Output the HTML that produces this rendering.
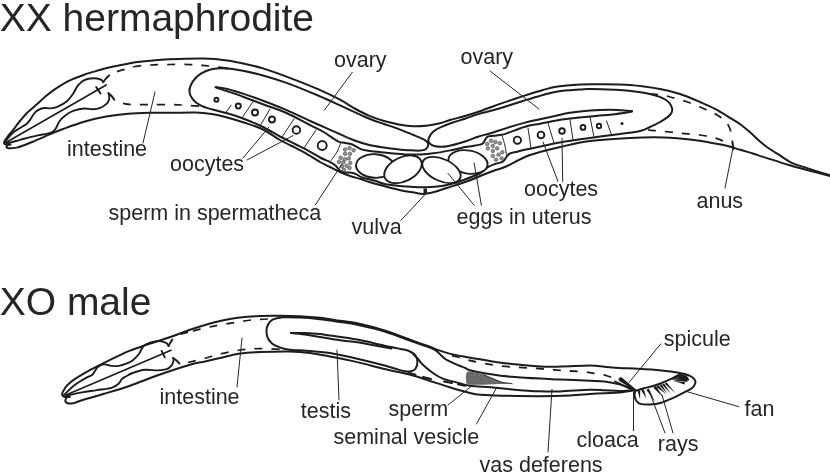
<!DOCTYPE html>
<html><head><meta charset="utf-8"><style>
html,body{margin:0;padding:0;background:#fff;}
body{width:830px;height:476px;overflow:hidden;position:relative;}
svg{position:absolute;left:0;top:0;will-change:transform;}
text{font-family:"Liberation Sans",sans-serif;fill:#262626;}
.t{font-size:39px;}
.l{font-size:21.5px;}
.e{fill:#fff;stroke:#1c1c1c;stroke-width:1.9;}
.bt{fill:none;stroke:#1c1c1c;stroke-width:2.6;stroke-linecap:butt;}
.b{fill:none;stroke:#1c1c1c;stroke-width:2;stroke-linecap:round;stroke-linejoin:round;}
.m{fill:none;stroke:#1c1c1c;stroke-width:1.9;stroke-linecap:round;stroke-linejoin:round;}
.lm{fill:none;stroke:#1c1c1c;stroke-width:1.7;stroke-linecap:round;}
.k{fill:none;stroke:#262626;stroke-width:1;stroke-linecap:round;}
.d{fill:none;stroke:#1c1c1c;stroke-width:1.7;stroke-dasharray:8 9;}
.d2{fill:none;stroke:#1c1c1c;stroke-width:1.8;stroke-dasharray:8 9;stroke-dashoffset:-2.5;}
.f{fill:#1c1c1c;stroke:none;}
.s{fill:#9a9a9a;stroke:#555;stroke-width:0.8;}
.g{fill:url(#stip);stroke:none;}
</style></head><body>
<svg width="830" height="476" viewBox="0 0 830 476">
<defs><pattern id="stip" width="2.6" height="2.4" patternUnits="userSpaceOnUse"><rect width="2.6" height="2.4" fill="#7e7e7e"/><circle cx="1.3" cy="1.2" r="0.85" fill="#b0b0b0" stroke="#2e2e2e" stroke-width="0.6"/></pattern></defs>
<g id="shapes">
<path class="b" d="M10.5,144.6C9.8,144.6 7.5,145.0 6.5,144.8C5.5,144.6 4.5,144.2 4.2,143.6C3.9,143.0 4.0,142.5 4.6,141.2C5.2,139.9 6.7,137.8 8.0,136.0C9.3,134.2 10.6,133.0 12.6,130.5C14.6,128.0 17.6,123.9 20.0,121.0C22.4,118.1 24.2,115.8 27.0,113.0C29.8,110.2 33.4,107.3 36.6,104.5C39.8,101.7 43.0,98.5 46.0,96.0C49.0,93.5 50.8,92.0 54.7,89.4C58.6,86.8 64.5,83.0 69.4,80.6C74.3,78.1 79.2,76.4 84.1,74.7C89.0,73.0 93.9,71.7 98.8,70.3C103.7,68.9 108.6,67.7 113.5,66.6C118.4,65.5 123.8,64.5 128.2,63.7C132.6,62.9 133.0,62.5 140.0,61.8C147.0,61.1 159.4,59.8 170.0,59.3C180.6,58.8 194.1,58.3 203.6,58.5C213.1,58.7 219.3,59.4 227.2,60.5C235.1,61.6 244.9,63.9 250.9,65.2C256.9,66.5 257.1,66.5 263.0,68.4C268.9,70.3 277.3,73.1 286.5,76.6C295.7,80.1 309.1,85.3 318.0,89.2C326.9,93.1 333.9,96.5 340.0,99.7C346.1,102.9 349.8,105.8 354.7,108.5C359.6,111.2 364.5,113.8 369.4,115.9C374.3,118.0 379.2,119.6 384.1,121.0C389.0,122.4 393.9,123.5 398.8,124.4C403.7,125.3 408.6,126.0 413.5,126.2C418.4,126.4 423.8,125.9 428.2,125.4C432.6,124.9 436.4,124.1 440.0,123.2C443.6,122.3 445.8,121.2 450.0,120.0C454.2,118.8 460.0,117.5 465.0,116.0C470.0,114.5 474.2,113.2 480.0,111.2C485.8,109.2 494.2,106.0 500.0,103.9C505.8,101.8 510.2,100.4 515.0,98.8C519.8,97.2 524.2,95.8 528.9,94.3C533.6,92.8 538.2,91.3 543.0,90.0C547.8,88.7 551.6,87.5 557.8,86.6C564.0,85.7 573.6,85.0 580.0,84.6C586.4,84.2 587.7,84.2 596.0,84.3C604.3,84.4 619.3,84.2 630.0,85.0C640.7,85.8 651.7,87.5 660.0,89.0C668.3,90.5 673.3,91.8 680.0,94.0C686.7,96.2 694.2,99.5 700.0,102.0C705.8,104.5 710.4,106.4 715.0,108.8C719.6,111.2 723.4,113.7 727.6,116.3C731.8,118.9 736.4,121.5 740.2,124.2C744.0,126.9 747.1,129.7 750.3,132.5C753.4,135.3 756.1,138.2 759.1,140.8C762.1,143.4 764.6,145.4 768.0,147.8C771.4,150.2 775.7,152.7 779.5,155.1C783.3,157.5 786.1,160.1 790.8,162.3C795.5,164.5 801.3,166.2 807.8,168.4C814.3,170.6 826.3,174.1 830.0,175.2"/>
<path class="b" d="M7.5,145.3C7.3,145.6 6.2,146.7 6.4,147.2C6.6,147.7 6.9,148.3 8.8,148.3C10.7,148.3 13.8,148.4 17.6,147.4C21.4,146.4 26.0,144.4 31.5,142.2C37.0,140.0 45.1,136.3 50.4,134.1C55.6,131.9 57.4,131.1 63.0,129.0C68.6,127.0 76.9,123.9 84.1,121.8C91.3,119.7 98.9,117.9 106.2,116.6C113.5,115.2 120.9,114.3 128.2,113.7C135.5,113.1 143.0,112.9 150.0,112.7C157.0,112.5 162.4,112.8 170.0,112.8C177.6,112.8 188.8,112.3 195.7,112.5C202.6,112.7 206.2,113.2 211.5,114.0C216.8,114.8 221.9,116.1 227.2,117.5C232.4,118.9 237.0,120.3 243.0,122.3C249.0,124.3 256.8,126.5 263.0,129.5C269.2,132.4 274.7,137.0 280.0,140.0C285.3,143.0 290.8,145.5 295.0,147.6C299.2,149.7 300.8,150.4 305.0,152.8C309.2,155.2 315.8,159.6 320.0,162.0C324.2,164.4 326.7,165.3 330.0,167.0C333.3,168.7 336.7,170.5 340.0,172.0C343.3,173.5 346.7,174.9 350.0,176.0C353.3,177.1 356.7,177.8 360.0,178.8C363.3,179.9 365.9,181.1 370.0,182.3C374.1,183.6 379.8,185.0 384.7,186.3C389.6,187.6 394.5,188.9 399.4,190.0C404.3,191.1 410.0,191.9 414.1,192.6C418.2,193.3 420.4,194.2 424.0,194.0C427.6,193.8 432.2,192.5 436.0,191.5C439.8,190.5 441.2,189.7 446.5,188.0C451.8,186.3 461.4,183.5 467.5,181.3C473.6,179.1 478.6,176.6 483.2,174.8C487.8,173.0 491.2,171.7 495.0,170.3C498.8,168.9 500.2,169.1 506.0,166.5C511.8,163.9 521.0,158.2 530.0,155.0C539.0,151.8 550.0,149.3 560.0,147.0C570.0,144.7 578.3,142.5 590.0,141.0C601.7,139.5 617.7,138.6 630.0,138.0C642.3,137.4 653.3,137.2 664.0,137.5C674.7,137.8 685.5,139.0 694.0,140.0C702.5,141.0 709.4,142.5 715.0,143.5C720.6,144.5 723.4,144.9 727.6,146.0C731.8,147.1 736.0,148.6 740.2,149.8C744.4,151.1 748.6,152.2 752.8,153.5C757.0,154.8 759.4,155.7 765.4,157.6C771.4,159.5 781.8,162.9 788.9,165.0C796.0,167.1 800.9,168.4 807.8,170.2C814.6,172.0 826.3,175.0 830.0,176.0"/>
<path class="m" d="M4.5,142.5C5.8,140.9 9.8,135.5 12.6,133.0C15.3,130.5 18.7,129.0 21.0,127.5C23.3,126.0 24.9,125.3 26.5,124.0C28.1,122.7 29.1,121.2 30.3,119.5C31.5,117.8 32.6,115.5 33.8,114.0C35.0,112.5 35.9,111.4 37.6,110.4C39.3,109.4 41.8,108.3 43.9,108.0C46.0,107.7 47.9,108.6 50.2,108.4C52.5,108.2 55.1,107.7 57.8,106.6C60.5,105.5 64.1,103.7 66.6,101.6C69.1,99.5 71.0,96.7 72.9,94.0C74.8,91.3 76.1,87.7 78.0,85.4C79.9,83.1 81.8,81.3 84.3,80.1C86.8,78.9 90.4,78.3 93.1,78.2C95.8,78.1 99.0,78.9 100.7,79.5C102.4,80.1 102.9,81.6 103.3,82.0"/>
<path class="m" d="M103.3,82.2C103.7,81.7 104.6,80.2 105.6,79.0C106.6,77.8 108.7,75.9 109.3,75.3"/>
<path class="lm" d="M6.0,142.5 L106.2,85.0"/>
<path class="m" d="M96.2,87.1 L100.5,93.4"/>
<path class="m" d="M6.5,143.5C8.1,143.1 12.9,141.8 16.0,141.0C19.1,140.2 21.6,139.4 25.2,138.5C28.8,137.6 33.6,136.3 37.8,135.4C42.0,134.5 47.4,133.9 50.4,132.8C53.4,131.7 54.0,130.9 55.5,129.0C57.0,127.1 57.6,123.8 59.3,121.5C61.0,119.2 63.2,117.0 65.6,115.2C68.0,113.4 70.7,111.8 73.8,110.7C76.9,109.6 80.9,108.7 84.1,108.5C87.3,108.3 90.2,109.4 92.9,109.3C95.6,109.2 98.1,108.7 100.3,107.8C102.5,106.9 104.7,105.4 106.2,104.1C107.7,102.8 108.6,101.2 109.1,99.7C109.6,98.2 109.2,96.4 109.1,95.3C109.0,94.2 108.5,93.5 108.4,93.1"/>
<path class="m" d="M108.4,93.1C109.0,93.7 111.0,95.4 112.0,96.5C113.0,97.6 113.9,99.2 114.3,99.7"/>
<path class="d" d="M117.0,71.6C118.3,71.2 122.0,70.1 125.0,69.3C128.0,68.5 130.8,67.2 135.0,66.5C139.2,65.8 144.2,65.3 150.0,65.0C155.8,64.7 163.3,64.6 170.0,64.5C176.7,64.4 184.2,64.4 190.0,64.6C195.8,64.8 200.3,65.2 205.0,65.6C209.7,66.0 215.8,66.9 218.0,67.2"/>
<path class="b" d="M219.0,67.2 L227.5,68.5"/>
<path class="d" d="M123.0,103.3C124.3,103.5 126.5,104.3 131.0,104.5C135.5,104.7 143.5,104.6 150.0,104.6C156.5,104.6 164.2,104.5 170.0,104.6C175.8,104.7 180.0,104.9 185.0,105.2C190.0,105.5 197.5,106.0 200.0,106.2"/>
<path class="d" d="M650.0,94.0C652.0,94.2 658.3,94.4 662.0,95.0C665.7,95.6 668.0,96.4 672.0,97.5C676.0,98.6 681.3,99.9 686.0,101.5C690.7,103.1 696.0,105.3 700.0,107.0C704.0,108.7 707.3,110.2 710.0,111.5C712.7,112.8 714.3,113.4 716.3,114.5C718.3,115.6 720.3,117.0 721.9,118.2C723.5,119.5 724.8,120.6 726.0,122.0C727.2,123.4 728.0,124.5 728.9,126.4C729.8,128.3 730.8,131.1 731.4,133.4C732.0,135.7 732.1,138.4 732.3,140.0C732.5,141.6 732.5,142.5 732.5,143.0"/>
<path class="d" d="M648.0,130.0C650.0,130.2 654.7,130.5 660.0,131.0C665.3,131.5 673.3,132.5 680.0,133.2C686.7,133.9 694.0,134.1 700.0,135.0C706.0,135.9 712.4,137.4 716.3,138.4C720.2,139.4 720.9,140.2 723.2,141.0C725.5,141.8 728.9,143.1 730.0,143.5"/>
<path class="b" d="M732.5,143.0 L733.5,149.0"/>
<path class="b" d="M216.2,87.3C218.0,87.6 222.7,87.9 227.2,88.9C231.7,90.0 237.0,91.6 243.0,93.6C249.0,95.6 256.0,98.1 263.0,100.7C270.0,103.3 277.1,106.0 285.0,109.4C292.9,112.8 301.8,117.2 310.2,121.0C318.6,124.8 328.0,128.8 335.4,132.1C342.8,135.3 349.0,138.3 354.7,140.5C360.4,142.7 364.5,143.8 369.4,145.0C374.3,146.2 379.2,146.8 384.1,147.5C389.0,148.2 393.9,148.9 398.8,149.4C403.7,149.9 410.0,150.2 413.5,150.4C417.0,150.6 418.0,150.8 420.0,150.6C422.0,150.4 424.2,150.1 425.5,149.3C426.8,148.5 427.7,147.1 428.0,146.0C428.3,144.9 428.2,143.6 427.5,142.5C426.8,141.4 426.1,140.7 423.8,139.4C421.5,138.2 417.7,136.7 413.5,135.0C409.3,133.3 403.7,130.9 398.8,129.1C393.9,127.3 389.0,125.7 384.1,124.0C379.2,122.3 374.3,120.8 369.4,118.8C364.5,116.8 359.8,114.5 354.7,112.2C349.6,109.9 345.1,107.7 339.0,104.9C332.9,102.1 326.8,99.2 318.0,95.5C309.2,91.8 295.7,86.2 286.5,82.9C277.3,79.6 270.2,77.5 263.0,75.5C255.8,73.5 249.0,71.9 243.0,70.7C237.0,69.5 232.4,68.7 227.2,68.4C221.9,68.2 215.9,68.3 211.5,69.2C207.1,70.1 203.7,71.8 200.5,73.9C197.3,76.0 194.4,78.9 192.6,81.8C190.8,84.7 189.4,88.3 189.4,91.2C189.4,94.1 190.8,96.7 192.6,99.1C194.4,101.5 197.3,103.7 200.5,105.4C203.7,107.1 207.1,108.0 211.5,109.3C215.9,110.6 221.9,111.8 227.2,113.3C232.4,114.8 237.2,116.3 243.0,118.5C248.8,120.7 255.8,123.5 262.0,126.5C268.2,129.5 274.5,133.6 280.0,136.5C285.5,139.4 290.8,141.9 295.0,144.0C299.2,146.1 300.8,146.7 305.0,148.9C309.2,151.2 315.9,155.3 320.0,157.5C324.1,159.7 327.1,160.5 329.7,161.8C332.3,163.1 333.9,164.1 335.5,165.5C337.1,166.9 337.9,168.9 339.2,170.0C340.5,171.1 341.3,171.8 343.4,172.3C345.5,172.8 349.5,172.4 351.8,172.8C354.1,173.2 355.2,173.9 357.0,174.7C358.8,175.5 359.3,176.5 362.3,177.5C365.3,178.5 371.3,179.7 375.0,180.8C378.7,181.9 380.6,183.2 384.7,184.1C388.8,185.0 394.5,185.5 399.4,186.0C404.3,186.5 409.0,186.8 414.1,187.0C419.2,187.2 424.6,187.3 430.0,187.0C435.4,186.7 441.2,186.2 446.8,185.0C452.4,183.8 458.0,182.0 463.6,180.0C469.2,178.0 476.4,175.1 480.4,173.0C484.4,170.9 485.4,168.7 487.8,167.2C490.2,165.7 492.5,164.9 495.0,164.0C497.5,163.1 500.9,162.8 502.9,161.6C504.8,160.4 505.5,157.9 506.7,156.6C507.9,155.2 508.1,154.3 510.0,153.5C511.9,152.7 513.3,152.6 518.0,151.5C522.7,150.4 531.0,148.6 538.0,147.1C545.0,145.6 551.3,144.0 560.0,142.5C568.7,141.0 580.0,139.4 590.0,138.0C600.0,136.6 611.7,135.2 620.0,134.0C628.3,132.8 635.0,132.2 640.0,131.0C645.0,129.8 646.7,128.5 650.0,127.0C653.3,125.5 656.7,124.0 660.0,122.0C663.3,120.0 668.0,117.3 670.0,115.0C672.0,112.7 672.7,110.5 672.0,108.0C671.3,105.5 669.7,102.3 666.0,100.0C662.3,97.7 657.7,95.7 650.0,94.0C642.3,92.3 630.0,90.8 620.0,90.0C610.0,89.2 596.7,89.1 590.0,89.0C583.3,88.9 585.4,89.1 580.0,89.5C574.6,89.9 564.0,90.5 557.8,91.4C551.6,92.3 547.8,93.7 543.0,95.0C538.2,96.3 533.6,97.7 528.9,99.1C524.2,100.5 519.8,102.0 515.0,103.5C510.2,105.0 505.8,106.6 500.0,108.3C494.2,110.0 485.8,111.8 480.0,113.6C474.2,115.3 469.5,117.3 465.0,118.8C460.5,120.3 456.7,121.2 453.0,122.5C449.3,123.8 446.1,124.8 442.8,126.3C439.5,127.8 435.8,129.4 433.4,131.5C431.0,133.6 429.2,136.6 428.6,138.6C428.0,140.6 428.5,142.1 429.6,143.4C430.7,144.7 432.2,145.7 435.2,146.2C438.2,146.7 442.5,147.0 447.5,146.2C452.5,145.4 459.9,143.1 465.0,141.5C470.1,139.9 473.7,138.1 478.0,136.7C482.3,135.3 485.6,134.7 490.6,133.2C495.6,131.7 502.3,129.4 508.0,127.6C513.7,125.8 519.7,124.0 525.0,122.6C530.3,121.2 535.0,120.4 540.0,119.3C545.0,118.2 550.0,117.1 555.0,116.0C560.0,114.9 564.2,113.7 570.0,112.8C575.8,111.9 583.3,111.0 590.0,110.5C596.7,110.0 603.0,109.6 610.0,109.7C617.0,109.8 628.3,110.8 632.0,111.0"/>
<path class="b" d="M216.2,87.3C216.5,87.4 213.3,86.5 217.8,88.1C222.3,89.7 235.5,94.0 243.0,96.7C250.5,99.4 255.8,101.6 263.0,104.3C270.2,107.0 278.6,109.5 286.5,113.0C294.4,116.5 304.1,122.1 310.2,125.2C316.2,128.3 318.2,128.8 322.8,131.5C327.4,134.2 334.4,139.4 338.0,141.3C341.6,143.2 342.0,142.3 344.3,142.8C346.6,143.3 349.1,143.2 351.8,144.3C354.5,145.4 358.0,148.0 360.7,149.1C363.4,150.2 365.6,150.4 368.0,150.8C370.4,151.2 372.3,151.2 375.0,151.5C377.7,151.8 379.0,152.1 384.0,152.6C389.0,153.1 399.0,154.1 405.0,154.4C411.0,154.7 415.3,154.6 420.0,154.4C424.7,154.2 428.0,154.0 433.4,153.3C438.8,152.6 447.0,151.0 452.3,150.0C457.6,149.0 461.4,147.8 465.0,147.1C468.6,146.4 471.4,146.2 473.9,145.8C476.4,145.4 478.5,145.0 480.0,144.6C481.5,144.2 482.1,144.2 483.0,143.3C483.9,142.4 484.8,140.1 485.6,138.9C486.5,137.8 486.7,136.9 488.1,136.4C489.5,135.9 491.5,136.1 493.8,135.8C496.1,135.5 499.6,135.3 502.0,134.8C504.4,134.3 504.2,134.2 508.0,132.9C511.8,131.6 519.7,128.2 525.0,126.7C530.3,125.2 535.0,124.7 540.0,123.7C545.0,122.7 550.0,121.7 555.0,120.8C560.0,119.9 563.2,119.4 570.0,118.6C576.8,117.8 589.0,116.7 596.0,116.0C603.0,115.3 606.0,115.2 612.0,114.5C618.0,113.8 628.7,112.1 632.0,111.6"/>
<ellipse class="e" cx="375.0" cy="166.0" rx="19.0" ry="11.8" transform="rotate(3.0 375.0 166.0)"/>
<ellipse class="e" cx="403.0" cy="169.3" rx="20.0" ry="12.0" transform="rotate(-26.0 403.0 169.3)"/>
<ellipse class="e" cx="468.0" cy="162.0" rx="19.8" ry="11.5" transform="rotate(10.0 468.0 162.0)"/>
<ellipse class="e" cx="441.5" cy="170.0" rx="20.5" ry="11.0" transform="rotate(24.5 441.5 170.0)"/>
<circle class="m" cx="216.4" cy="99.8" r="2.0"/>
<circle class="m" cx="238.3" cy="106.0" r="2.5"/>
<circle class="m" cx="255.0" cy="112.5" r="3.0"/>
<circle class="m" cx="272.0" cy="119.5" r="3.0"/>
<circle class="m" cx="296.4" cy="130.0" r="3.8"/>
<circle class="m" cx="322.2" cy="145.5" r="4.5"/>
<circle class="m" cx="517.4" cy="140.2" r="3.6"/>
<circle class="m" cx="541.0" cy="135.0" r="3.4"/>
<circle class="m" cx="562.0" cy="131.0" r="2.8"/>
<circle class="m" cx="583.0" cy="127.4" r="2.4"/>
<circle class="m" cx="599.0" cy="126.0" r="2.2"/>
<circle class="f" cx="622.0" cy="123.6" r="1.5"/>
<path class="k" d="M226.5,111.7 L231.2,105.1"/>
<path class="k" d="M253.2,101.5 L241.4,118.8"/>
<path class="k" d="M270.0,109.0 L260.0,126.0"/>
<path class="k" d="M294.0,119.0 L282.0,137.0"/>
<path class="k" d="M316.0,130.0 L304.0,148.0"/>
<path class="k" d="M528.0,128.0 L531.0,148.0"/>
<path class="k" d="M548.0,123.0 L554.0,143.0"/>
<path class="k" d="M570.0,119.6 L573.0,140.0"/>
<path class="k" d="M590.0,117.0 L594.0,137.0"/>
<path class="k" d="M606.5,121.0 L612.0,136.0"/>
<path class="k" d="M340.5,143.5C339.9,144.9 338.6,149.2 337.0,152.0C335.4,154.8 332.0,159.1 331.0,160.5"/>
<path class="k" d="M502.3,136.4C502.8,138.0 504.3,142.6 505.0,146.0C505.7,149.4 506.4,154.8 506.7,156.6"/>
<circle class="s" cx="345.1" cy="149.6" r="1.75"/>
<circle class="s" cx="349.5" cy="148.1" r="1.75"/>
<circle class="s" cx="353.6" cy="150.3" r="1.75"/>
<circle class="s" cx="345.1" cy="153.8" r="1.75"/>
<circle class="s" cx="349.9" cy="153.8" r="1.75"/>
<circle class="s" cx="340.7" cy="157.8" r="1.75"/>
<circle class="s" cx="344.8" cy="159.3" r="1.75"/>
<circle class="s" cx="348.8" cy="158.4" r="1.75"/>
<circle class="s" cx="338.9" cy="161.9" r="1.75"/>
<circle class="s" cx="343.3" cy="162.3" r="1.75"/>
<circle class="s" cx="350.3" cy="162.9" r="1.75"/>
<circle class="s" cx="346.5" cy="165.8" r="1.75"/>
<circle class="s" cx="342.0" cy="166.5" r="1.75"/>
<circle class="s" cx="349.5" cy="168.0" r="1.75"/>
<circle class="s" cx="344.0" cy="170.0" r="1.75"/>
<circle class="s" cx="491.0" cy="140.8" r="1.75"/>
<circle class="s" cx="495.4" cy="142.0" r="1.75"/>
<circle class="s" cx="499.8" cy="143.3" r="1.75"/>
<circle class="s" cx="487.2" cy="144.0" r="1.75"/>
<circle class="s" cx="492.8" cy="145.9" r="1.75"/>
<circle class="s" cx="497.2" cy="148.4" r="1.75"/>
<circle class="s" cx="487.8" cy="148.4" r="1.75"/>
<circle class="s" cx="492.8" cy="150.9" r="1.75"/>
<circle class="s" cx="502.3" cy="152.2" r="1.75"/>
<circle class="s" cx="492.8" cy="155.9" r="1.75"/>
<circle class="s" cx="498.5" cy="154.7" r="1.75"/>
<circle class="s" cx="496.0" cy="159.7" r="1.75"/>
<circle class="s" cx="501.7" cy="158.5" r="1.75"/>
<path class="k" d="M352.3,72.3 L324.3,110.2"/>
<path class="k" d="M490.0,71.0 L539.0,109.0"/>
<path class="k" d="M155.0,92.0 L143.0,143.0"/>
<path class="k" d="M269.0,127.0 L243.0,158.0"/>
<path class="k" d="M293.0,135.6 L247.0,160.0"/>
<path class="k" d="M342.0,164.0 L315.4,204.8"/>
<path class="k" d="M424.3,195.3 L400.7,220.6"/>
<path class="k" d="M448.0,173.4 L474.2,205.3"/>
<path class="k" d="M474.1,163.0 L481.4,205.3"/>
<path class="k" d="M543.0,142.0 L558.0,181.5"/>
<path class="k" d="M562.0,138.0 L562.7,181.5"/>
<path class="k" d="M733.0,148.0 L725.0,188.0"/>
<path class="f" d="M423.5,188.5 L427,188.5 L427,194 L423.5,194 Z"/>
<path class="b" d="M69.7,397.1C69.0,397.1 66.7,397.2 65.5,397.0C64.3,396.8 63.3,396.4 62.8,395.8C62.3,395.2 62.0,394.4 62.3,393.3C62.6,392.2 63.6,390.4 64.5,389.0C65.3,387.6 65.7,386.6 67.4,385.0C69.1,383.4 71.0,381.6 74.7,379.1C78.4,376.7 84.5,373.0 89.4,370.3C94.3,367.6 99.2,365.3 104.1,362.9C109.0,360.4 114.5,357.7 118.8,355.6C123.1,353.6 125.6,352.3 130.0,350.6C134.4,348.9 138.5,347.5 145.2,345.2C151.9,342.9 162.9,339.6 170.4,337.0C177.9,334.4 184.2,331.8 190.0,329.8C195.8,327.8 200.0,326.5 205.0,325.0C210.0,323.5 214.2,322.2 220.0,321.0C225.8,319.8 233.3,318.3 240.0,317.5C246.7,316.7 253.3,316.3 260.0,316.0C266.7,315.7 273.3,315.8 280.0,315.8C286.7,315.8 293.3,315.9 300.0,316.2C306.7,316.5 313.3,317.0 320.0,317.8C326.7,318.6 333.8,319.9 340.0,320.8C346.2,321.7 349.9,321.6 357.3,323.2C364.7,324.8 374.9,327.4 384.6,330.5C394.3,333.6 408.3,339.2 415.5,341.8C422.7,344.4 424.8,344.8 428.0,346.0C431.2,347.2 432.2,347.9 435.0,348.9C437.8,349.9 441.4,351.2 444.5,352.1C447.6,353.1 450.5,353.8 453.9,354.6C457.3,355.4 458.8,355.7 465.0,356.8C471.2,357.9 483.2,360.0 491.0,361.2C498.8,362.4 503.8,363.1 512.0,364.0C520.2,364.9 532.0,366.0 540.0,366.4C548.0,366.8 551.7,366.7 560.0,366.6C568.3,366.5 582.5,365.6 590.0,365.6C597.5,365.6 599.8,366.4 604.7,366.8C609.6,367.2 613.8,367.7 619.4,368.0C625.0,368.3 631.1,368.3 638.1,368.7C645.1,369.1 654.5,369.7 661.2,370.4C667.9,371.1 673.9,371.9 678.5,372.7C683.1,373.5 686.3,374.2 688.9,375.3C691.5,376.4 693.2,377.8 694.3,379.1C695.4,380.4 695.6,381.7 695.3,383.1C695.0,384.5 694.2,386.2 692.4,387.7C690.6,389.2 687.6,390.6 684.3,392.3C681.0,394.0 676.6,396.4 672.8,398.1C668.9,399.8 665.1,401.6 661.2,402.7C657.4,403.8 653.2,404.3 649.7,404.5C646.2,404.7 642.6,404.5 640.4,403.9C638.2,403.3 637.4,402.4 636.4,401.0C635.4,399.6 634.8,397.4 634.6,395.8C634.4,394.2 635.1,392.0 635.2,391.2"/>
<path class="b" d="M66.5,397.5C66.3,398.1 65.1,400.3 65.3,401.3C65.5,402.3 66.3,403.0 67.8,403.3C69.3,403.6 72.0,403.4 74.4,402.9C76.8,402.4 77.0,401.7 82.0,400.2C87.0,398.7 96.1,396.2 104.1,393.8C112.1,391.4 121.0,388.8 130.0,385.7C138.9,382.6 147.8,378.8 157.8,375.3C167.8,371.8 182.1,367.1 190.0,364.8C197.9,362.5 200.0,362.6 205.0,361.5C210.0,360.4 214.2,359.3 220.0,358.0C225.8,356.7 233.3,354.5 240.0,353.5C246.7,352.5 251.7,352.3 260.0,352.0C268.3,351.7 281.7,351.3 290.0,351.5C298.3,351.7 303.3,352.2 310.0,353.0C316.7,353.8 322.1,355.0 330.0,356.5C337.9,358.0 348.2,360.0 357.3,362.1C366.4,364.2 375.5,366.8 384.6,369.0C393.7,371.2 404.4,373.3 412.0,375.3C419.6,377.3 423.7,379.0 430.0,381.0C436.3,383.0 442.9,385.2 449.6,387.2C456.3,389.2 464.9,391.7 470.0,393.0C475.1,394.3 475.2,394.4 480.5,394.8C485.8,395.2 491.6,395.5 501.5,395.7C511.4,395.9 528.6,396.2 540.0,396.2C551.4,396.2 561.7,395.9 570.0,395.5C578.3,395.1 584.2,394.4 590.0,394.0C595.8,393.6 599.8,393.4 604.7,393.2C609.6,392.9 614.5,393.0 619.4,392.5C624.3,392.0 631.6,390.7 634.0,390.3"/>
<path class="m" d="M64.0,395.0C64.4,394.6 64.8,394.1 66.6,392.4C68.4,390.7 71.4,387.5 74.7,385.0C78.0,382.5 83.5,379.3 86.5,377.6C89.5,375.9 90.9,375.9 92.4,374.7C93.9,373.5 94.3,371.6 95.3,370.3C96.3,369.0 96.7,367.6 98.2,366.6C99.7,365.6 101.9,364.5 104.1,364.4C106.3,364.3 109.0,365.6 111.5,365.9C114.0,366.1 116.3,366.3 118.8,365.9C121.2,365.5 123.9,364.6 126.2,363.7C128.5,362.8 130.5,362.0 132.6,360.4C134.7,358.8 137.2,356.2 138.9,354.0C140.6,351.8 141.4,348.8 142.7,347.1C144.0,345.4 144.4,344.9 146.5,344.0C148.6,343.1 152.8,341.8 155.3,341.4C157.8,341.0 159.7,341.1 161.6,341.4C163.5,341.7 165.5,342.6 166.7,343.3C167.8,344.1 168.2,345.5 168.5,345.9"/>
<path class="m" d="M168.5,345.9C168.8,345.4 169.7,343.9 170.3,342.8C170.9,341.7 172.0,340.1 172.3,339.5"/>
<path class="lm" d="M66.0,395.0 L171.0,350.3"/>
<path class="m" d="M161.6,350.9 L164.8,357.2"/>
<path class="m" d="M65.5,397.0C65.8,396.8 64.7,396.4 67.4,395.6C70.2,394.8 77.1,393.3 82.0,392.4C86.9,391.5 91.9,390.9 96.8,390.1C101.7,389.4 107.8,389.0 111.5,387.9C115.2,386.8 117.1,385.0 118.8,383.5C120.5,382.0 120.6,380.3 121.8,379.1C123.0,377.9 124.2,377.5 126.0,376.5C127.8,375.5 129.4,374.1 132.6,373.0C135.8,371.9 141.0,370.2 145.2,369.8C149.4,369.4 154.2,370.5 157.8,370.4C161.4,370.3 164.4,370.0 166.7,369.2C169.0,368.4 170.5,366.9 171.7,365.4C172.8,363.9 173.4,361.7 173.6,360.4C173.8,359.1 173.1,358.2 173.0,357.8"/>
<path class="m" d="M173.3,358.3C173.8,358.7 175.5,359.6 176.5,360.5C177.5,361.4 178.8,363.0 179.3,363.5"/>
<path class="bt" d="M180.5,333.8 L188.0,331.8"/>
<path class="d" d="M193.0,331.0C194.2,330.7 196.3,330.1 200.0,329.2C203.7,328.3 209.6,326.9 215.3,325.8C221.0,324.7 228.3,323.6 234.4,322.6C240.5,321.6 246.4,320.5 252.0,319.9C257.6,319.3 264.0,319.1 268.0,319.0C272.0,318.9 274.7,319.0 276.0,319.0"/>
<path class="d" d="M188.0,362.5C191.0,361.8 200.7,359.4 206.0,358.0C211.3,356.6 214.3,355.3 220.0,354.0C225.7,352.7 233.3,350.9 240.0,350.0C246.7,349.1 253.0,348.7 260.0,348.6C267.0,348.5 278.3,349.3 282.0,349.4"/>
<path class="d2" d="M449.6,355.4C451.0,355.7 454.4,356.1 457.8,357.0C461.2,357.9 465.4,359.4 470.0,360.5C474.6,361.6 479.9,362.8 485.2,363.7C490.5,364.6 496.3,365.6 502.0,366.2C507.7,366.8 513.7,367.0 519.4,367.4C525.1,367.8 530.4,368.0 536.2,368.4C542.0,368.8 548.4,369.4 554.0,369.8C559.6,370.2 564.3,370.6 570.0,371.0C575.7,371.4 583.5,371.8 588.0,372.3C592.5,372.8 594.0,373.3 597.0,373.8C600.0,374.3 603.2,374.8 606.0,375.5C608.8,376.2 611.5,377.4 614.0,378.3C616.5,379.2 618.8,380.1 621.0,381.0C623.2,381.9 626.0,383.5 627.0,384.0"/>
<path class="b" d="M408.5,372.6 L415.5,374.6"/>
<path class="b" d="M423.0,377.0 L431.0,379.0"/>
<path class="b" d="M444.0,381.4 L452.0,383.0"/>
<path class="b" d="M458.0,384.3 L465.0,385.8"/>
<path class="b" d="M282.0,317.3C285.0,317.4 293.7,317.3 300.0,317.6C306.3,317.9 313.3,318.5 320.0,319.2C326.7,319.9 333.8,321.1 340.0,322.0C346.2,322.9 349.9,323.2 357.3,324.8C364.7,326.4 374.9,328.5 384.6,331.5C394.3,334.5 408.3,340.1 415.5,342.6C422.7,345.2 424.8,345.6 428.0,346.8C431.2,348.0 432.8,348.7 434.5,349.6C436.2,350.5 436.9,351.2 438.0,352.2C439.1,353.2 440.2,354.5 441.3,355.5C442.4,356.5 443.4,357.6 444.5,358.4C445.6,359.2 446.0,359.5 447.6,360.3C449.2,361.1 451.8,362.4 453.9,363.4C456.0,364.3 458.3,365.3 460.2,366.0C462.1,366.7 463.4,367.1 465.0,367.8C466.6,368.5 465.7,369.1 470.0,370.2C474.3,371.3 484.0,373.1 491.0,374.2C498.0,375.3 503.8,376.1 512.0,376.8C520.2,377.5 532.0,378.2 540.0,378.6C548.0,379.1 551.7,379.1 560.0,379.5C568.3,379.9 582.5,380.4 590.0,380.7C597.5,381.0 599.8,380.9 604.7,381.5C609.6,382.1 615.0,383.2 619.4,384.4C623.8,385.6 629.2,388.1 631.2,388.8"/>
<path class="b" d="M282.0,317.3C280.3,317.8 274.5,318.4 272.0,320.0C269.5,321.6 267.8,324.3 267.0,327.0C266.2,329.7 266.2,333.2 267.0,336.0C267.8,338.8 269.8,341.6 272.0,343.5C274.2,345.4 277.3,346.5 280.0,347.5C282.7,348.5 283.0,348.8 288.0,349.4C293.0,350.0 303.0,350.4 310.0,351.0C317.0,351.6 322.1,351.7 330.0,353.0C337.9,354.3 348.2,356.6 357.3,358.7C366.4,360.8 377.8,363.7 384.6,365.5C391.4,367.3 394.9,368.7 398.3,369.6C401.7,370.6 402.9,370.9 405.0,371.2C407.1,371.5 409.2,371.7 411.0,371.3C412.8,370.9 414.4,370.4 415.5,368.8C416.6,367.2 417.4,364.2 417.4,362.0C417.4,359.8 416.7,357.2 415.5,355.5C414.3,353.8 411.8,352.4 410.0,351.5C408.2,350.6 409.2,350.8 405.0,349.8C400.8,348.8 392.6,347.4 384.6,345.7C376.7,344.0 366.4,341.3 357.3,339.6C348.2,337.9 336.2,336.4 330.0,335.5C323.8,334.6 324.2,334.4 320.0,334.0C315.8,333.6 309.8,333.2 305.0,333.0C300.2,332.8 293.3,333.0 291.0,333.0"/>
<path class="m" d="M291.0,333.0C293.3,333.2 300.2,333.8 305.0,334.5C309.8,335.2 314.2,336.1 320.0,337.0C325.8,337.9 333.8,339.3 340.0,340.2C346.2,341.1 351.5,341.4 357.3,342.3C363.1,343.2 369.3,344.5 375.0,345.5C380.7,346.5 388.8,348.0 391.5,348.5"/>
<path class="b" d="M413.5,354.5C414.2,355.2 416.5,357.4 418.0,359.0C419.5,360.6 419.8,361.8 422.3,364.2C424.9,366.6 429.9,370.9 433.3,373.3C436.7,375.7 438.9,377.1 442.8,378.6C446.7,380.1 452.0,381.2 456.5,382.4C461.0,383.6 464.2,385.0 470.0,385.8C475.8,386.6 484.0,386.7 491.0,387.3C498.0,387.9 503.8,388.7 512.0,389.4C520.2,390.1 532.0,391.0 540.0,391.3C548.0,391.6 551.7,391.6 560.0,391.4C568.3,391.1 582.5,390.0 590.0,389.8C597.5,389.6 599.8,390.1 604.7,390.3C609.6,390.5 614.8,391.0 619.4,391.0C624.0,391.0 630.4,390.4 632.6,390.3"/>
<path class="g" d="M465.8,376.5 C466,373.5 466.8,371.6 468.5,371.2 L482.5,373.6 L485.4,375.4 L494.8,379.4 L502,382.2 L512.1,383.7 L498.4,384 L483.9,384.7 L469.5,384.7 L466.2,383.6 Z"/>
<path class="k" d="M484.0,374.9C485.8,375.6 491.8,378.2 494.8,379.4C497.8,380.6 499.1,381.5 502.0,382.2C504.9,382.9 510.4,383.4 512.1,383.7"/>
<path class="f" d="M619,377.8 L621.5,377.2 L636,389.6 L634.5,391.2 L618.5,380 Z"/>
<path class="m" d="M615.0,381.5 L634.5,390.5"/>
<path class="b" d="M635.2,390.8C636.7,390.4 640.9,389.1 643.9,388.3C646.9,387.5 650.2,386.9 653.1,386.0C656.0,385.1 658.3,384.2 661.2,383.1C664.1,382.0 667.8,380.4 670.5,379.1C673.2,377.9 675.6,376.4 677.4,375.6C679.1,374.8 680.4,374.6 681.0,374.4"/>
<path class="f" d="M637.61,390.98 L640.10,399.50 L640.19,390.62 Z"/>
<path class="f" d="M641.32,390.46 L646.40,398.60 L643.88,389.34 Z"/>
<path class="f" d="M646.48,389.78 L655.30,402.80 L648.92,388.42 Z"/>
<path class="f" d="M653.35,387.76 L663.70,397.80 L655.65,385.84 Z"/>
<path class="f" d="M656.32,386.96 L666.30,394.30 L658.08,385.04 Z"/>
<path class="f" d="M659.38,385.61 L667.30,393.50 L661.42,383.99 Z"/>
<path class="f" d="M662.06,384.65 L670.70,393.50 L663.94,383.15 Z"/>
<path class="f" d="M664.77,383.80 L675.50,393.30 L666.43,382.20 Z"/>
<path class="f" d="M688.08,376.71 L670.50,379.60 L688.32,379.49 Z"/>
<path class="f" d="M686.75,375.02 L671.50,379.20 L687.25,377.78 Z"/>
<path class="f" d="M684.09,373.66 L672.00,379.00 L684.91,376.14 Z"/>
<path class="f" d="M680.45,373.45 L673.00,379.00 L681.55,375.35 Z"/>
<path class="f" d="M687.35,379.50 L672.50,380.20 L687.25,382.10 Z"/>
<path class="f" d="M685.06,382.23 L673.00,380.80 L684.54,384.57 Z"/>
<path class="f" d="M688.97,378.40 L671.00,380.00 L689.03,380.60 Z"/>
<path class="k" d="M242.0,338.0 L237.0,387.0"/>
<path class="k" d="M337.0,350.0 L339.0,400.0"/>
<path class="k" d="M473.0,385.0 L448.0,405.0"/>
<path class="k" d="M497.0,387.0 L476.5,424.0"/>
<path class="k" d="M552.0,389.4 L548.0,452.0"/>
<path class="k" d="M628.9,382.5 L660.8,343.9"/>
<path class="k" d="M633.5,392.0 L633.5,430.6"/>
<path class="k" d="M651.0,396.0 L665.0,433.0"/>
<path class="k" d="M662.0,395.0 L673.0,433.0"/>
<path class="k" d="M686.8,391.6 L738.9,406.7"/>
</g>
<g id="labels">
<text class="t" x="-0.3" y="30.5">XX hermaphrodite</text>
<text class="t" x="-0.3" y="314.6">XO male</text>
<text class="l" x="334" y="66.5">ovary</text>
<text class="l" x="460.5" y="63.8">ovary</text>
<text class="l" x="67" y="156">intestine</text>
<text class="l" x="170" y="170.8">oocytes</text>
<text class="l" x="108.5" y="220.2">sperm in spermatheca</text>
<text class="l" x="351.5" y="234">vulva</text>
<text class="l" x="456.5" y="223.5">eggs in uterus</text>
<text class="l" x="524" y="195.5">oocytes</text>
<text class="l" x="696.5" y="207.5">anus</text>
<text class="l" x="159.5" y="404">intestine</text>
<text class="l" x="300.8" y="418.3">testis</text>
<text class="l" x="388.5" y="415.5">sperm</text>
<text class="l" x="333.5" y="444">seminal vesicle</text>
<text class="l" x="479.5" y="472.4">vas deferens</text>
<text class="l" x="663.8" y="345.6">spicule</text>
<text class="l" x="744.5" y="416.3">fan</text>
<text class="l" x="576.5" y="447.4">cloaca</text>
<text class="l" x="657.8" y="450.7">rays</text>
</g>
</svg>
</body></html>
